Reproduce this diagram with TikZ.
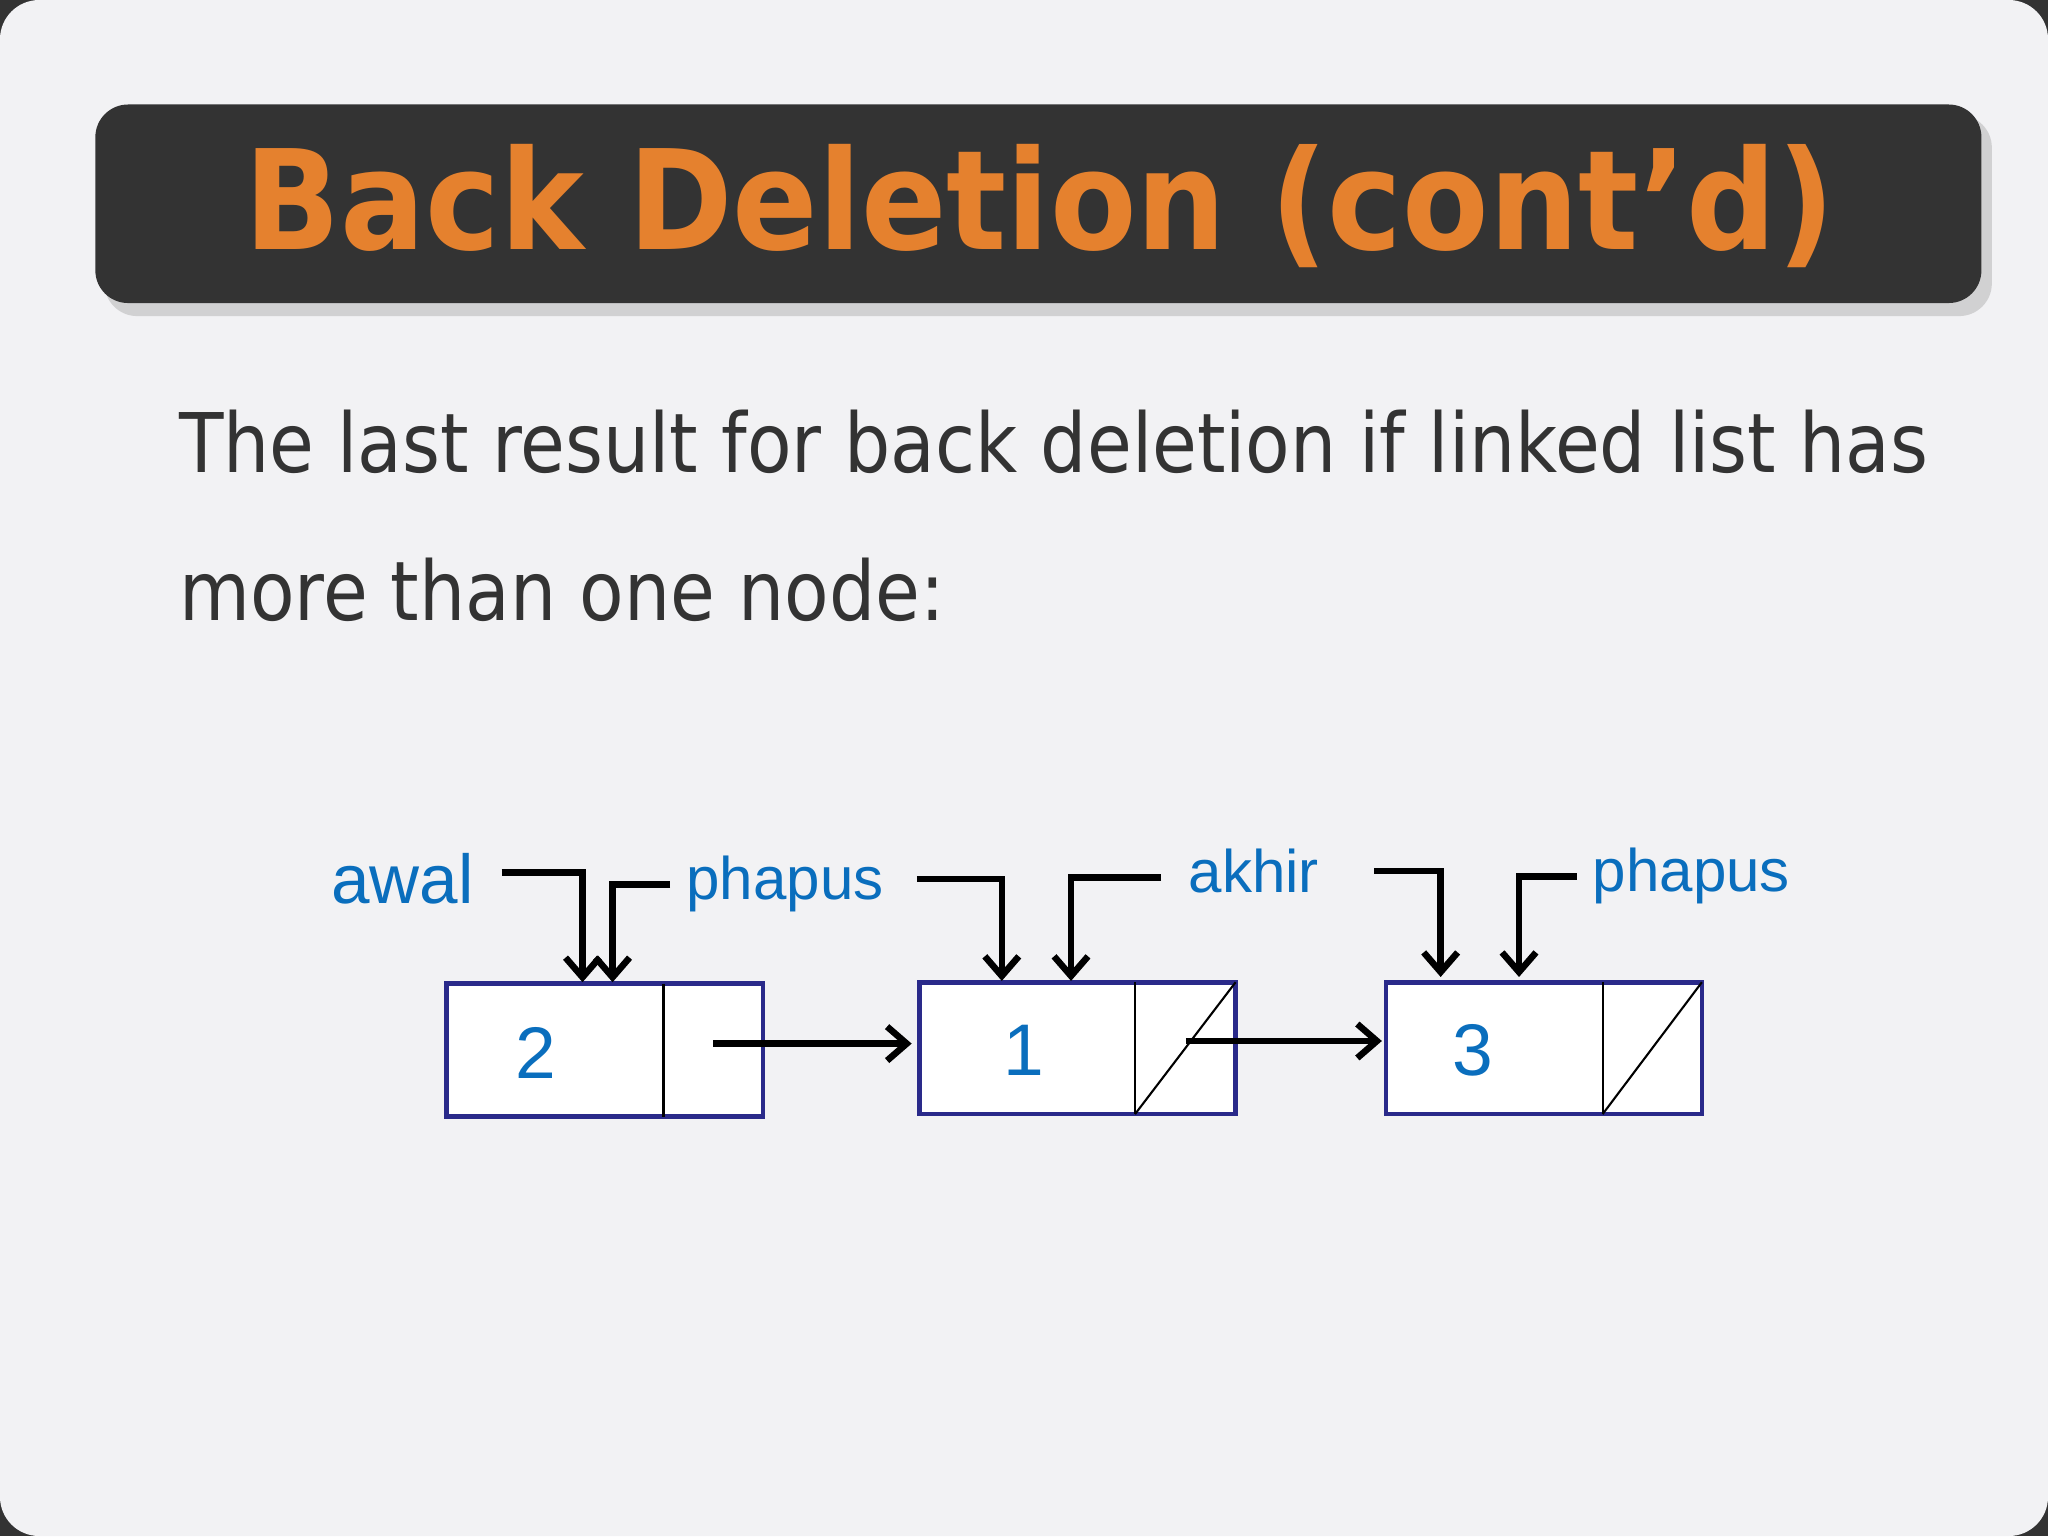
\documentclass[tikz,border=0pt]{standalone}
\usepackage{fontspec}
\usepackage{graphicx}
\setmainfont{DejaVu Sans}
\newfontfamily\arialf{Liberation Sans}
\usetikzlibrary{arrows.meta,shadows}
\definecolor{slidebg}{HTML}{F2F2F4}
\definecolor{titlebg}{HTML}{333333}
\definecolor{titlefg}{HTML}{E5812E}
\definecolor{bodyfg}{HTML}{333333}
\definecolor{lblue}{HTML}{0A6EBD}
\definecolor{navy}{HTML}{2A2A8A}
\tikzset{
  cell/.style={draw=navy,line width=3.5pt,fill=white},
  divl/.style={draw=black,line width=1.6pt},
  ptr/.style={draw=black,line width=5pt,-{Straight Barb[length=15pt,width=26pt,line width=5pt]}},
  lbl/.style={text=lblue,font=\arialf\fontsize{46}{50}\selectfont,inner sep=0pt},
  num/.style={text=lblue,font=\arialf\fontsize{56}{60}\selectfont,inner sep=0pt},
}
\begin{document}
\begin{tikzpicture}[x=1pt,y=-1pt]
\useasboundingbox (0,0) rectangle (1568,1176);
\fill[black!80] (0,0) rectangle (1568,1176);
\fill[slidebg,rounded corners=30pt] (0,0) rectangle (1568,1176);
% title
\fill[black!30,opacity=0.5,rounded corners=25pt] (80,88) rectangle (1525,242);
\fill[titlebg,rounded corners=25pt] (73,80) rectangle (1517,232);
\node[text=titlefg,font=\bfseries\fontsize{106}{110}\selectfont,inner sep=0pt] (title) at (796,158) {\scalebox{0.91}[1]{Back Deletion (cont’d)}};
% body
\node[anchor=base west,text=bodyfg,font=\fontsize{63}{70}\selectfont,inner sep=0pt] (l1) at (137,362) {\scalebox{0.885}[1]{The last result for back deletion if linked list has}};
\node[anchor=base west,text=bodyfg,font=\fontsize{63}{70}\selectfont,inner sep=0pt] (l2) at (137,475) {\scalebox{0.885}[1]{more than one node:}};
% boxes
\draw[cell] (342,753) rectangle (584,855);
\draw[divl] (508,753) -- (508,855);
\draw[cell] (704,752) rectangle (946,853);
\draw[divl] (869,752) -- (869,853);
\draw[divl] (869,853) -- (946,752);
\draw[cell] (1061,752) rectangle (1303,853);
\draw[divl] (1227,752) -- (1227,853);
\draw[divl] (1227,853) -- (1303,752);
\node[num] (n1) at (410,806) {2};
\node[num] (n2) at (784,804) {1};
\node[num] (n3) at (1128,804) {3};
\coordinate (b1) at (698,799);
\coordinate (b2) at (1058,797);
\coordinate (s1) at (546,799);
\coordinate (s2) at (908,797);
\draw[ptr] (s1) -- (b1);
\draw[ptr] (s2) -- (b2);
% labels
\node[lbl,font=\arialf\fontsize{53}{56}\selectfont] (awal) at (308,673) {awal};
\node[lbl] (ph1) at (601,677) {phapus};
\node[lbl] (akhir) at (960,667) {akhir};
\node[lbl] (ph2) at (1295,671) {phapus};
\draw[ptr] (384,668) -- (446,668) -- (446,752);
\draw[ptr] (513,677) -- (469,677) -- (469,752);
\draw[ptr] (702,673) -- (767,673) -- (767,751);
\draw[ptr] (889,672) -- (820,672) -- (820,751);
\draw[ptr] (1052,667) -- (1103,667) -- (1103,748);
\draw[ptr] (1207,671) -- (1163,671) -- (1163,748);
\end{tikzpicture}
\end{document}
